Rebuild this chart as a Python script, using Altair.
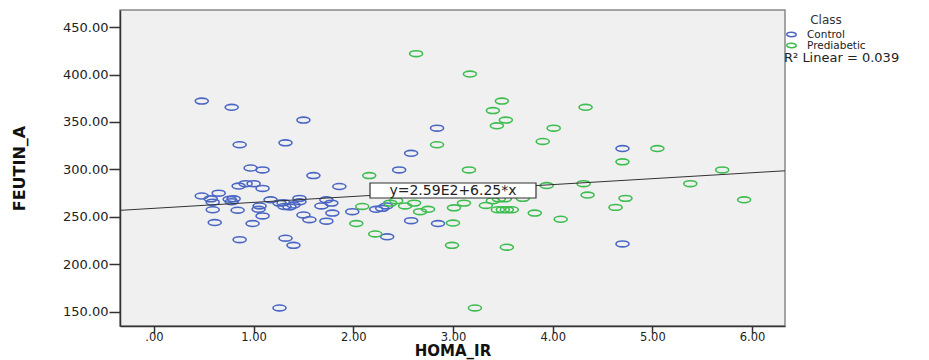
import altair as alt
import pandas as pd

# ---- data ----
classes = ["Control", "Prediabetic"]
class_colors = ["#4a66c4", "#3dbd4f"]

control_x = [0.48, 0.78, 1.50, 0.86, 1.32, 0.97, 1.09, 1.60, 1.86, 0.85,
             0.92, 1.00, 1.09, 2.46, 2.58, 2.84, 4.70, 0.48, 0.65, 0.57,
             0.76, 0.80, 1.17, 1.30, 1.46, 1.46, 1.73, 1.78, 1.68, 0.59,
             0.78, 0.59, 0.84, 1.06, 1.05, 1.09, 0.61, 0.99, 1.26, 1.31,
             1.36, 1.40, 1.50, 1.56, 1.73, 1.79, 1.99, 2.23, 2.29, 2.33,
             2.34, 2.58, 2.85, 0.86, 1.32, 1.40, 1.26, 4.70]
control_y = [372.0, 365.5, 352.0, 326.0, 328.0, 301.5, 299.5, 293.5, 282.0, 282.5,
             285.0, 285.0, 280.0, 299.5, 317.0, 343.5, 322.0, 272.0, 275.0, 269.0,
             268.5, 269.0, 268.0, 265.0, 269.5, 266.0, 268.0, 264.5, 261.5, 265.5,
             266.0, 257.5, 257.0, 261.5, 258.0, 251.0, 244.0, 243.0, 264.5, 261.0,
             260.5, 262.5, 252.0, 247.0, 245.5, 254.0, 255.5, 258.0, 259.0, 261.5,
             229.0, 246.0, 243.0, 226.0, 227.5, 220.0, 154.0, 221.5]

pred_x = [2.63, 3.17, 3.49, 3.40, 3.53, 3.44, 4.01, 3.90, 2.84, 3.16,
          2.16, 3.94, 4.33, 5.05, 4.70, 5.70, 4.31, 5.38, 4.35, 4.73,
          4.63, 5.92, 4.08, 2.09, 2.03, 2.22, 3.00, 2.99, 3.54, 3.22,
          2.52, 2.61, 2.43, 2.37, 2.67, 2.75, 3.01, 3.11, 3.33, 3.40,
          3.46, 3.52, 3.70, 3.45, 3.50, 3.54, 3.59, 3.82]
pred_y = [422.0, 400.5, 372.0, 362.0, 352.0, 346.0, 343.5, 329.5, 326.0, 299.5,
          293.5, 283.0, 365.5, 322.0, 308.0, 299.5, 285.0, 285.0, 273.0, 269.5,
          260.0, 268.0, 247.5, 261.0, 243.0, 232.0, 243.5, 220.0, 218.0, 154.0,
          261.5, 264.5, 267.0, 264.5, 255.5, 258.0, 259.5, 264.5, 262.0, 267.0,
          269.0, 269.0, 269.5, 257.5, 257.5, 257.5, 257.5, 254.0]

x_ticks = [0, 1, 2, 3, 4, 5, 6]
y_ticks = [150, 200, 250, 300, 350, 400, 450]
x_domain = [-0.34, 6.33]
y_domain = [135, 468]

fit_intercept = 259.0
fit_slope = 6.25
fit_label = "y=2.59E2+6.25*x"
r2_label = "R\u00b2 Linear = 0.039"

# ---- tables ----
df = pd.DataFrame({
    "HOMA_IR": control_x + pred_x,
    "FEUTIN_A": control_y + pred_y,
    "Class": [classes[0]] * len(control_x) + [classes[1]] * len(pred_x),
})
line_df = pd.DataFrame({
    "HOMA_IR": x_domain,
    "FEUTIN_A": [fit_intercept + fit_slope * v for v in x_domain],
})
label_df = pd.DataFrame({"label": [fit_label]})
r2_df = pd.DataFrame({"label": [r2_label]})

FONT = "DejaVu Sans"
ellipse = "M -1 0 A 1 0.45 0 1 0 1 0 A 1 0.45 0 1 0 -1 0 Z"

xs = alt.Scale(domain=x_domain, nice=False, zero=False)
ys = alt.Scale(domain=y_domain, nice=False, zero=False)

x_axis = alt.Axis(
    values=x_ticks,
    labelExpr="datum.value == 0 ? '.00' : format(datum.value, '.2f')",
    grid=False, tickSize=7, tickWidth=1.5, tickColor="#333",
    domainColor="#333", domainWidth=1.5,
    labelFont=FONT, labelFontSize=11.5, labelColor="#222", labelPadding=-2,
    title="HOMA_IR", titleFont=FONT, titleFontSize=15, titleFontWeight="bold",
    titleColor="#111", titleY=32.5, titleBaseline="bottom",
)
y_axis = alt.Axis(
    values=y_ticks,
    labelExpr="format(datum.value, '.2f')",
    grid=False, tickSize=11, tickWidth=1.5, tickColor="#333",
    domainColor="#333", domainWidth=1.5,
    labelFont=FONT, labelFontSize=13, labelColor="#222", labelPadding=1,
    title="FEUTIN_A", titleFont=FONT, titleFontSize=16, titleFontWeight="bold",
    titleColor="#111", titleAngle=270, titleX=-101, titleY=158,
    titleBaseline="middle", titleAlign="center",
)

points = alt.Chart(df).mark_point(
    shape=ellipse, filled=False, size=170, strokeWidth=1.6, opacity=1
).encode(
    x=alt.X("HOMA_IR:Q", scale=xs, axis=x_axis),
    y=alt.Y("FEUTIN_A:Q", scale=ys, axis=y_axis),
    color=alt.Color(
        "Class:N",
        scale=alt.Scale(domain=classes, range=class_colors),
        legend=alt.Legend(
            title="Class", orient="none", legendX=666, legendY=5,
            titleAnchor="middle", titleFont=FONT, titleFontSize=12,
            titleFontWeight="normal", titleColor="#333", titlePadding=2,
            labelFont=FONT, labelFontSize=10.5, labelColor="#222",
            symbolType=ellipse, symbolSize=90, symbolStrokeWidth=1.5,
            rowPadding=0, labelOffset=10,
        ),
    ),
)

fit_line = alt.Chart(line_df).mark_line(color="#333", strokeWidth=1).encode(
    x=alt.X("HOMA_IR:Q", scale=xs),
    y=alt.Y("FEUTIN_A:Q", scale=ys),
)

box = alt.Chart(label_df).mark_rect(fill="white", stroke="#333", strokeWidth=1.2).encode(
    x=alt.value(250), x2=alt.value(416), y=alt.value(173), y2=alt.value(188)
)
box_text = alt.Chart(label_df).mark_text(
    font=FONT, fontSize=14, color="#222", align="center", baseline="middle"
).encode(x=alt.value(333), y=alt.value(181), text="label:N")

r2_text = alt.Chart(r2_df).mark_text(
    font=FONT, fontSize=13, color="#222", align="left", baseline="middle"
).encode(x=alt.value(664), y=alt.value(48), text="label:N")

chart = alt.layer(points, fit_line, box, box_text, r2_text).properties(
    width=665, height=316,
    autosize=alt.AutoSizeParams(type="none"),
    padding={"left": 112, "top": 2, "right": 120, "bottom": 34},
    background="white",
).configure_view(
    fill="#f0f0f0", stroke="#888", strokeWidth=1.5
)

chart.save("out.html", embed_options={"renderer": "svg", "actions": False})
